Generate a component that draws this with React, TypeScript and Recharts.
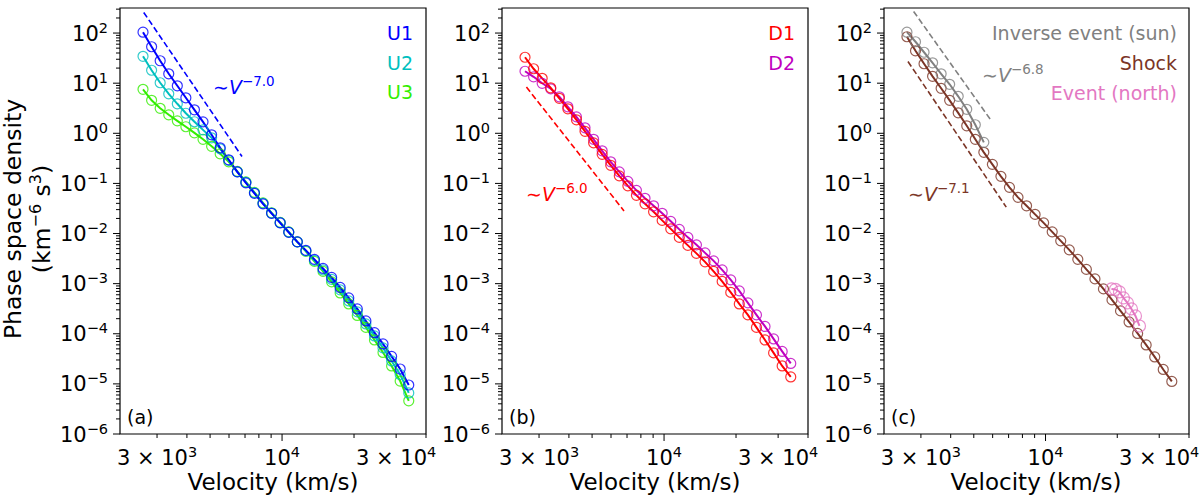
import React from 'react';
import { LineChart, Line, XAxis, YAxis, ReferenceArea } from 'recharts';

// velocity grid (km/s), shared by every spectrum
const V = [2621, 2847, 3092, 3358, 3647, 3960, 4301, 4671, 5074, 5510, 5984, 6499, 7058, 7665, 8325, 9041,
  9820, 10666, 11583, 12580, 13660, 14840, 16120, 17500, 19010, 20640, 22420, 24350, 26440, 28720, 31190, 33880];

// panel (a)
const U1 = [104, 53.3, 28.0, 15.4, 8.87, 5.11, 2.94, 1.69, 0.933, 0.513, 0.296, 0.170, 0.1026, 0.0633, 0.0391, 0.0253,
  0.0163, 0.01055, 0.00682, 0.00461, 0.00305, 0.00201, 0.00133, 0.000841, 0.00052, 0.000313, 0.00018, 0.000105, 6.27e-5, 3.53e-5, 1.98e-5, 9.5e-6];
const U2 = [34.4, 18.1, 10.2, 6.14, 3.88, 2.51, 1.70, 1.17, 0.812, 0.490, 0.289, 0.170, 0.105, 0.0648, 0.0400, 0.0256,
  0.01647, 0.01065, 0.00682, 0.00451, 0.00291, 0.00188, 0.001216, 0.00075, 0.000452, 0.000273, 0.000157, 9.05e-5, 5.22e-5, 2.87e-5, 1.54e-5, 6.6e-6];
const U3 = [7.55, 4.55, 3.15, 2.34, 1.77, 1.35, 1.02, 0.758, 0.550, 0.389, 0.270, 0.174, 0.1075, 0.0663, 0.0409, 0.0259,
  0.0167, 0.01079, 0.00682, 0.0044, 0.00278, 0.001755, 0.001083, 0.000653, 0.000394, 0.000232, 0.000134, 7.53e-5, 4.24e-5, 2.28e-5, 1.14e-5, 4.6e-6];

// panel (b)
const D1 = [32.9, 19.4, 12.5, 8.09, 4.99, 3.08, 1.86, 1.095, 0.645, 0.380, 0.2295, 0.1416, 0.0894, 0.0578, 0.0391, 0.0271,
  0.0183, 0.01239, 0.00838, 0.0058, 0.00402, 0.00272, 0.001757, 0.001109, 0.000669, 0.000394, 0.000238, 0.000134, 7.53e-5, 4.15e-5, 2.28e-5, 1.375e-5];
const D2 = [17.3, 13.4, 9.95, 7.73, 5.35, 3.38, 2.13, 1.286, 0.758, 0.447, 0.270, 0.170, 0.110, 0.0727, 0.0504, 0.0357,
  0.0253, 0.0175, 0.01211, 0.00838, 0.00594, 0.00411, 0.00285, 0.00188, 0.001188, 0.000717, 0.000413, 0.000238, 0.00014, 7.89e-5, 4.44e-5, 2.56e-5];

// panel (c)
const SHOCK = [84.4, 44.3, 24.4, 13.7, 7.91, 4.55, 2.56, 1.41, 0.758, 0.417, 0.240, 0.1384, 0.0835, 0.0527, 0.0357, 0.0241,
  0.01632, 0.01079, 0.00714, 0.00472, 0.00305, 0.001925, 0.001244, 0.000786, 0.000474, 0.000286, 0.000172, 0.0001016, 5.99e-5, 3.45e-5, 1.94e-5, 1.12e-5];
const SUN = [104, 67.0, 41.4, 25.5, 15.4, 9.50, 5.47, 3.01, 1.48, 0.660];
const NORTH_V = [18910, 19660, 20430, 21230, 22070, 22940, 23850, 24790];
const NORTH = [7.85e-4, 7.67e-4, 6.84e-4, 5.2e-4, 4.13e-4, 3.13e-4, 2.27e-4, 1.43e-4];

// power-law guide lines: [start, end]
const FIT_A_V = [2639, 6800];
const FIT_A = [258, 0.344];
const FIT_B_V = [2657, 6800];
const FIT_B = [8.35, 0.0283];
const FIT_SUN_V = [2796, 5864];
const FIT_SUN = [270, 1.9];
const FIT_SHOCK_V = [2647, 6842];
const FIT_SHOCK = [27.1, 0.0336];

const X_DOMAIN = [2100, 40000];
const Y_DOMAIN = [1e-6, 316.2];
const X_TICKS = [3000, 4000, 5000, 6000, 7000, 8000, 9000, 10000, 20000, 30000, 40000];
const X_LABELS: Record<number, [string, string]> = { 3000: ['3 × 10', '3'], 10000: ['10', '4'], 30000: ['3 × 10', '4'] };
const Y_EXPONENTS = [-6, -5, -4, -3, -2, -1, 0, 1, 2];
const Y_TICKS = Y_EXPONENTS.flatMap(e => [1, 2, 3, 4, 5, 6, 7, 8, 9].map(m => m * Math.pow(10, e))).filter(t => t <= Y_DOMAIN[1]);

const FONT = 'DejaVu Sans, sans-serif';
const BLUE = '#0000ff';
const CYAN = '#00bfbf';
const GREEN = '#33ee00';
const RED = '#ff0000';
const MAGENTA = '#bf00bf';
const GRAY = '#808080';
const BROWN = '#7b3526';
const PINK = '#e377c2';

const rows = (vs: number[], fs: number[]) => fs.map((f, i) => ({ v: vs[i], f }));

const XTick = (props: any) => {
  const { x, y, payload } = props;
  const v = payload.value;
  const label = X_LABELS[v];
  return (
    <g>
      <line x1={x} x2={x} y1={y} y2={y + (v === 10000 ? 7 : 4)} stroke="#000" strokeWidth={1} />
      {label && (
        <text x={x} y={y + 31} textAnchor="middle" fontSize={21} fontFamily={FONT} fill="#000">
          {label[0]}<tspan dy={-8} fontSize={14.5}>{label[1]}</tspan>
        </text>
      )}
    </g>
  );
};

const YTick = (props: any) => {
  const { x, y, payload } = props;
  const lg = Math.log10(payload.value);
  const e = Math.round(lg);
  const major = Math.abs(lg - e) < 1e-6;
  return (
    <g>
      <line x1={x - (major ? 7 : 4)} x2={x} y1={y} y2={y} stroke="#000" strokeWidth={1} />
      {major && (
        <text x={x - 12} y={y + 7.5} textAnchor="end" fontSize={21} fontFamily={FONT} fill="#000">
          10<tspan dy={-8} fontSize={14.5}>{e < 0 ? '\u2212' + -e : String(e)}</tspan>
        </text>
      )}
    </g>
  );
};

const Slope = ({ x, y, exp, color }: { x: number; y: number; exp: string; color: string }) => (
  <text x={x} y={y} fill={color} fontSize={19} fontFamily={FONT}>
    ∼<tspan fontStyle="italic">V</tspan>
    <tspan dy={-8} fontSize={13.5}>{exp}</tspan>
  </text>
);

const Tag = ({ x, y, color, text, anchor = 'end' }: any) => (
  <text x={x} y={y} fill={color} fontSize={19} fontFamily={FONT} textAnchor={anchor}>{text}</text>
);

const dotStyle = (color: string, r = 5) => ({ r, stroke: color, strokeWidth: 1.2, fill: 'none', strokeOpacity: 0.8 });

function Panel({ left, width, axisW, right, children }: any) {
  return (
    <div style={{ position: 'absolute', left, top: 0 }}>
      <LineChart width={width} height={495} margin={{ top: 8, right, bottom: 0, left: 0 }}>
        <XAxis
          dataKey="v"
          type="number"
          scale="log"
          domain={X_DOMAIN}
          allowDataOverflow
          ticks={X_TICKS}
          interval={0}
          tick={<XTick />}
          tickLine={false}
          tickSize={0}
          tickMargin={0}
          axisLine={false}
          height={61}
        />
        <YAxis
          dataKey="f"
          type="number"
          scale="log"
          domain={Y_DOMAIN}
          allowDataOverflow
          ticks={Y_TICKS}
          interval={0}
          tick={<YTick />}
          tickLine={false}
          tickSize={0}
          tickMargin={0}
          axisLine={false}
          width={axisW}
        />
        <ReferenceArea x1={X_DOMAIN[0]} x2={X_DOMAIN[1]} y1={Y_DOMAIN[0]} y2={Y_DOMAIN[1]} fill="none" stroke="#000" strokeWidth={1.2} ifOverflow="visible" />
        {children}
      </LineChart>
    </div>
  );
}

const series = (key: string, vs: number[], fs: number[], color: string, r = 5) => (
  <Line key={key} data={rows(vs, fs)} dataKey="f" stroke={color} strokeWidth={2} dot={dotStyle(color, r)}
    activeDot={false} isAnimationActive={false} />
);

const guide = (key: string, vs: number[], fs: number[], color: string) => (
  <Line key={key} data={rows(vs, fs)} dataKey="f" stroke={color} strokeWidth={1.6} strokeDasharray="6 3"
    dot={false} activeDot={false} isAnimationActive={false} />
);

export default function App() {
  return (
    <div style={{ position: 'absolute', left: 0, top: 0, width: 1200, height: 495, background: '#fff', fontFamily: FONT }}>
      <Panel left={0} width={450} axisW={120} right={24}>
        {series('u3', V, U3, GREEN)}
        {series('u2', V, U2, CYAN)}
        {series('u1', V, U1, BLUE)}
        {guide('fa', FIT_A_V, FIT_A, BLUE)}
        <Slope x={213} y={94} exp={'\u22127.0'} color={BLUE} />
        <Tag x={413} y={40} color={BLUE} text="U1" />
        <Tag x={413} y={70} color={CYAN} text="U2" />
        <Tag x={413} y={99} color={GREEN} text="U3" />
        <Tag x={127} y={424} color="#000" text="(a)" anchor="start" />
        <text x={273} y={490} textAnchor="middle" fontSize={23} fontFamily={FONT} fill="#000">Velocity (km/s)</text>
        <text transform="translate(21,219) rotate(-90)" textAnchor="middle" fontSize={23.5} fontFamily={FONT} fill="#000">Phase space density</text>
        <text transform="translate(50,219) rotate(-90)" textAnchor="middle" fontSize={23.5} fontFamily={FONT} fill="#000">
          (km<tspan dy={-9} fontSize={16}>{'\u22126'}</tspan><tspan dy={9}> s</tspan><tspan dy={-9} fontSize={16}>3</tspan><tspan dy={9}>)</tspan>
        </text>
      </Panel>
      <Panel left={430} width={400} axisW={72} right={22}>
        {series('d2', V, D2, MAGENTA)}
        {series('d1', V, D1, RED)}
        {guide('fb', FIT_B_V, FIT_B, RED)}
        <Slope x={96} y={201} exp={'\u22126.0'} color={RED} />
        <Tag x={365} y={40} color={RED} text="D1" />
        <Tag x={365} y={70} color={MAGENTA} text="D2" />
        <Tag x={79} y={424} color="#000" text="(b)" anchor="start" />
        <text x={225} y={490} textAnchor="middle" fontSize={23} fontFamily={FONT} fill="#000">Velocity (km/s)</text>
      </Panel>
      <Panel left={815} width={385} axisW={69} right={11}>
        {series('shock', V, SHOCK, BROWN)}
        {series('sun', V.slice(0, SUN.length), SUN, GRAY)}
        {series('north', NORTH_V, NORTH, PINK, 6)}
        {guide('fsun', FIT_SUN_V, FIT_SUN, GRAY)}
        {guide('fshock', FIT_SHOCK_V, FIT_SHOCK, BROWN)}
        <Slope x={167} y={82} exp={'\u22126.8'} color={GRAY} />
        <Slope x={93} y={201} exp={'\u22127.1'} color={BROWN} />
        <Tag x={362} y={40} color={GRAY} text="Inverse event (sun)" />
        <Tag x={362} y={70} color={BROWN} text="Shock" />
        <Tag x={362} y={100} color={PINK} text="Event (north)" />
        <Tag x={76} y={424} color="#000" text="(c)" anchor="start" />
        <text x={221} y={490} textAnchor="middle" fontSize={23} fontFamily={FONT} fill="#000">Velocity (km/s)</text>
      </Panel>
    </div>
  );
}
